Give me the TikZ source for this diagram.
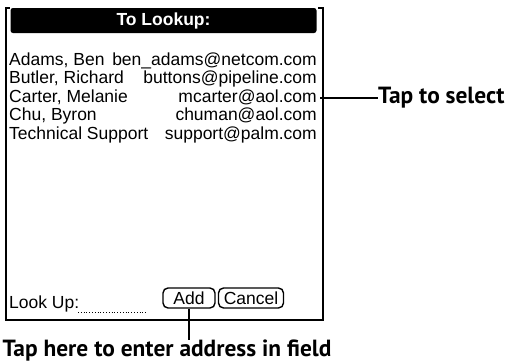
\documentclass[tikz,border=0pt]{standalone}
\usepackage{fontspec}
\newfontfamily\screenfont{Liberation Sans}
\newfontfamily\calloutfont{PT Sans}
\begin{document}
\begin{tikzpicture}[
   x=1pt,y=-1pt,
   font=\screenfont\fontsize{17.5}{20}\selectfont,
   every node/.style={inner sep=0pt},
   entry/.style={anchor=base west},
   mail/.style={anchor=base east},
   frame/.style={line width=2pt},
   button/.style={draw,line width=1.4pt,rounded corners=5pt,minimum height=20pt},
   callout/.style={font=\calloutfont\fontsize{23.4}{26}\selectfont\bfseries},
   lead/.style={line width=1.3pt}]
\useasboundingbox (0,0) rectangle (515,364);
% screen frame
\draw[frame] (10,8) -- (6,8) -- (6,319.5) -- (322.5,319.5) -- (322.5,8) -- (318,8);
\node[fill=black,rounded corners=2.5pt,minimum width=306pt,minimum height=25pt,text=white,font=\screenfont\fontsize{17.5}{20}\selectfont\bfseries] (title) at (163.5,20.5) {To Lookup:};
% list
\node[entry] (n1) at (9,65) {Adams, Ben};
\node[mail]  (m1) at (317,65) {ben\_adams@netcom.com};
\node[entry] (n2) at (9,83.5) {Butler, Richard};
\node[mail]  (m2) at (317,83.5) {buttons@pipeline.com};
\node[entry] (n3) at (9,102) {Carter, Melanie};
\node[mail]  (m3) at (317,102) {mcarter@aol.com};
\node[entry] (n4) at (9,120.5) {Chu, Byron};
\node[mail]  (m4) at (317,120.5) {chuman@aol.com};
\node[entry] (n5) at (9,139) {Technical Support};
\node[mail]  (m5) at (317,139) {support@palm.com};
% bottom row
\node[entry] (lookup) at (9,308) {Look Up:};
\coordinate (dotend) at (147,312.5);
\draw[dotted,line width=0.8pt] (78,312.5) -- (dotend);
\node[button,minimum width=52pt] (add) at (189,298) {Add};
\node[button,minimum width=65pt] (cancel) at (251,298) {Cancel};
% callouts
\node[callout,anchor=west] (select) at (378,98) {Tap to select};
\draw[lead] (m3.east |- select) ++(3,0) -- (select.west);
\node[callout] (hint) at (167,351) {Tap here to enter address in field};
\draw[lead] (add.south) -- (add.south |- hint.north);
\end{tikzpicture}
\end{document}
